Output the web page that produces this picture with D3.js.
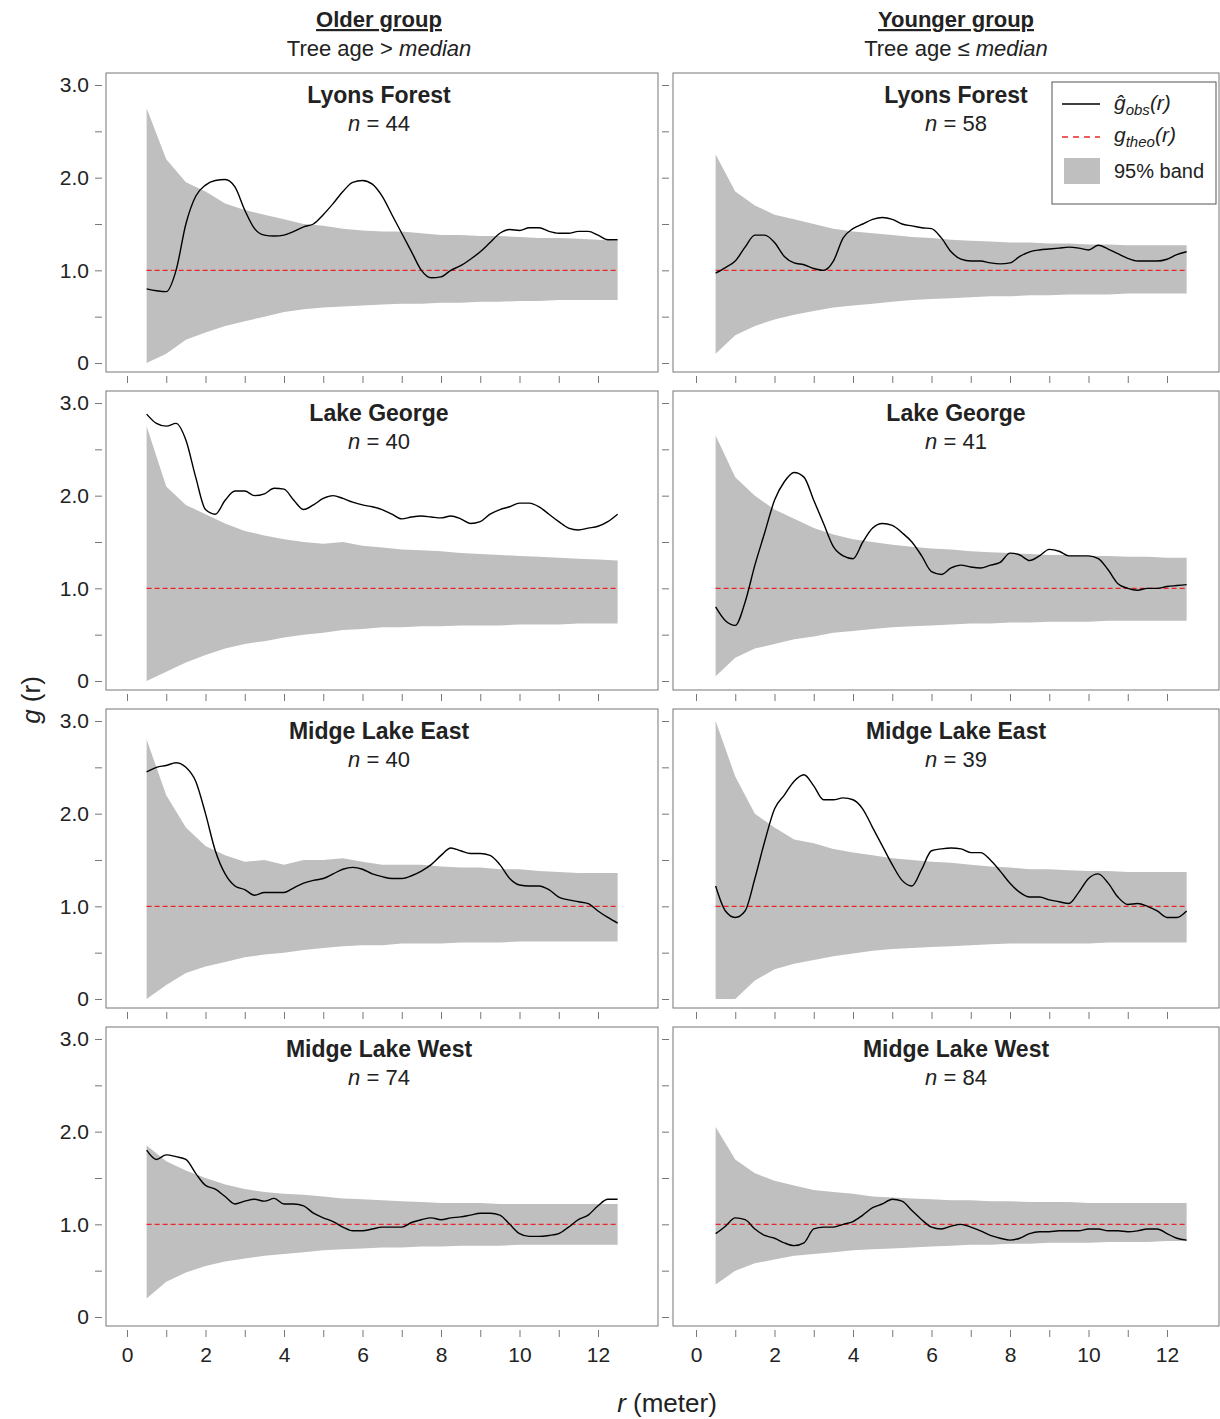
<!DOCTYPE html>
<html><head><meta charset="utf-8">
<script src="https://cdn.jsdelivr.net/npm/d3@7"></script>
<style>body{margin:0;background:#fff;font-family:Arial,"Liberation Sans",sans-serif;}</style>
</head><body><div id="chart"></div>
<script>
// Data grids
const bandR = d3.range(0, 25).map(i => 0.5 + i * 0.5);
const obsR = d3.range(0, 49).map(i => 0.5 + i * 0.25);
const sites = ['Lyons Forest', 'Lake George', 'Midge Lake East', 'Midge Lake West'];
const nOlder = [44, 40, 40, 74];
const nYounger = [58, 41, 39, 84];

const upperOld = [
  [2.75,2.2,1.95,1.85,1.72,1.65,1.6,1.55,1.5,1.48,1.45,1.43,1.42,1.42,1.4,1.38,1.38,1.37,1.37,1.36,1.35,1.35,1.34,1.33,1.32],
  [2.75,2.1,1.9,1.8,1.7,1.62,1.57,1.53,1.5,1.48,1.5,1.46,1.44,1.42,1.41,1.4,1.38,1.37,1.36,1.35,1.34,1.33,1.32,1.31,1.3],
  [2.8,2.2,1.85,1.65,1.55,1.48,1.5,1.45,1.5,1.5,1.52,1.48,1.45,1.45,1.45,1.43,1.42,1.42,1.4,1.4,1.38,1.37,1.36,1.36,1.36],
  [1.85,1.68,1.58,1.5,1.43,1.38,1.35,1.33,1.32,1.3,1.28,1.27,1.26,1.25,1.24,1.23,1.23,1.23,1.22,1.22,1.22,1.22,1.22,1.22,1.22],
];
const lowerOld = [
  [0,0.1,0.25,0.33,0.4,0.45,0.5,0.55,0.58,0.6,0.61,0.62,0.63,0.64,0.64,0.65,0.65,0.66,0.66,0.67,0.67,0.68,0.68,0.68,0.68],
  [0,0.1,0.2,0.28,0.35,0.4,0.43,0.47,0.5,0.52,0.55,0.56,0.58,0.58,0.59,0.59,0.6,0.6,0.6,0.61,0.61,0.61,0.62,0.62,0.62],
  [0,0.15,0.28,0.35,0.4,0.45,0.48,0.5,0.53,0.55,0.57,0.58,0.58,0.6,0.6,0.6,0.61,0.61,0.61,0.62,0.62,0.62,0.62,0.62,0.62],
  [0.2,0.38,0.48,0.55,0.6,0.63,0.66,0.68,0.7,0.72,0.73,0.74,0.75,0.75,0.76,0.76,0.77,0.77,0.77,0.78,0.78,0.78,0.78,0.78,0.78],
];
const upperYoung = [
  [2.25,1.85,1.7,1.6,1.55,1.5,1.45,1.42,1.4,1.38,1.36,1.35,1.33,1.32,1.31,1.3,1.3,1.29,1.29,1.28,1.28,1.27,1.27,1.27,1.27],
  [2.65,2.2,2.0,1.85,1.75,1.65,1.58,1.53,1.5,1.47,1.45,1.43,1.42,1.4,1.39,1.38,1.37,1.36,1.36,1.35,1.35,1.34,1.34,1.33,1.33],
  [3.0,2.4,2.0,1.85,1.72,1.68,1.62,1.58,1.55,1.52,1.5,1.48,1.47,1.45,1.43,1.42,1.4,1.4,1.39,1.38,1.38,1.37,1.37,1.37,1.37],
  [2.05,1.7,1.55,1.47,1.42,1.37,1.35,1.33,1.3,1.29,1.28,1.27,1.26,1.26,1.25,1.25,1.24,1.24,1.24,1.23,1.23,1.23,1.23,1.23,1.23],
];
const lowerYoung = [
  [0.1,0.3,0.4,0.47,0.52,0.56,0.6,0.62,0.64,0.66,0.68,0.69,0.7,0.71,0.72,0.72,0.73,0.73,0.74,0.74,0.74,0.75,0.75,0.75,0.75],
  [0.05,0.25,0.35,0.4,0.45,0.48,0.52,0.54,0.56,0.58,0.59,0.6,0.61,0.62,0.62,0.63,0.63,0.64,0.64,0.64,0.65,0.65,0.65,0.65,0.65],
  [0,0,0.2,0.32,0.38,0.42,0.46,0.49,0.52,0.54,0.55,0.56,0.57,0.58,0.59,0.6,0.6,0.6,0.6,0.6,0.61,0.61,0.61,0.61,0.61],
  [0.35,0.5,0.58,0.62,0.66,0.68,0.7,0.72,0.73,0.74,0.75,0.76,0.77,0.78,0.78,0.79,0.79,0.8,0.8,0.8,0.81,0.81,0.81,0.82,0.82],
];
const obsOld = [
  [0.8,0.78,0.77,1.0,1.5,1.8,1.92,1.97,1.98,1.9,1.65,1.45,1.38,1.37,1.38,1.42,1.47,1.5,1.6,1.72,1.85,1.95,1.97,1.93,1.8,1.6,1.4,1.2,1.0,0.92,0.93,1.0,1.05,1.12,1.2,1.3,1.4,1.44,1.43,1.46,1.46,1.42,1.4,1.4,1.42,1.42,1.38,1.33,1.33],
  [2.88,2.78,2.75,2.78,2.6,2.2,1.85,1.8,1.95,2.05,2.05,2.0,2.02,2.08,2.07,1.95,1.85,1.9,1.97,2.0,1.97,1.93,1.9,1.88,1.85,1.8,1.75,1.77,1.78,1.77,1.76,1.78,1.75,1.7,1.72,1.8,1.85,1.88,1.92,1.92,1.88,1.8,1.72,1.65,1.63,1.65,1.67,1.72,1.8],
  [2.45,2.5,2.52,2.55,2.5,2.35,2.0,1.6,1.35,1.22,1.18,1.12,1.15,1.15,1.15,1.2,1.25,1.28,1.3,1.35,1.4,1.42,1.4,1.35,1.32,1.3,1.3,1.33,1.38,1.45,1.55,1.63,1.6,1.57,1.57,1.55,1.45,1.3,1.23,1.22,1.22,1.18,1.1,1.07,1.05,1.03,0.95,0.88,0.82],
  [1.8,1.7,1.75,1.73,1.7,1.55,1.42,1.38,1.3,1.22,1.25,1.27,1.25,1.28,1.22,1.22,1.2,1.12,1.07,1.03,0.97,0.93,0.93,0.95,0.97,0.97,0.97,1.02,1.05,1.07,1.05,1.07,1.08,1.1,1.12,1.12,1.1,1.0,0.9,0.87,0.87,0.88,0.9,0.97,1.05,1.1,1.2,1.27,1.27],
];
const obsYoung = [
  [0.97,1.03,1.1,1.25,1.38,1.38,1.3,1.15,1.08,1.06,1.02,1.0,1.1,1.35,1.45,1.5,1.55,1.57,1.55,1.5,1.48,1.46,1.45,1.35,1.2,1.12,1.1,1.1,1.08,1.07,1.08,1.15,1.2,1.22,1.23,1.24,1.25,1.24,1.22,1.27,1.23,1.18,1.13,1.1,1.1,1.1,1.12,1.17,1.2],
  [0.8,0.65,0.6,0.85,1.25,1.6,1.95,2.15,2.25,2.2,1.95,1.7,1.45,1.35,1.32,1.5,1.65,1.7,1.68,1.6,1.5,1.35,1.18,1.15,1.22,1.25,1.23,1.22,1.25,1.28,1.38,1.36,1.3,1.35,1.42,1.4,1.35,1.35,1.35,1.32,1.2,1.05,1.0,0.98,1.0,1.0,1.02,1.03,1.04],
  [1.22,0.95,0.88,0.95,1.3,1.7,2.05,2.2,2.35,2.42,2.3,2.15,2.15,2.17,2.15,2.05,1.85,1.65,1.45,1.28,1.22,1.4,1.6,1.62,1.63,1.62,1.58,1.58,1.5,1.38,1.25,1.15,1.1,1.1,1.07,1.05,1.03,1.15,1.3,1.35,1.25,1.1,1.02,1.03,1.0,0.95,0.88,0.88,0.95],
  [0.9,0.98,1.07,1.05,0.95,0.88,0.85,0.8,0.77,0.8,0.95,0.97,0.97,1.0,1.03,1.1,1.18,1.22,1.27,1.25,1.15,1.05,0.97,0.95,0.98,1.0,0.97,0.93,0.88,0.85,0.83,0.85,0.9,0.92,0.92,0.93,0.93,0.93,0.95,0.95,0.93,0.93,0.92,0.93,0.95,0.95,0.9,0.85,0.83],
];
const xTicks = [0, 2, 4, 6, 8, 10, 12];
const yTicks = [0, 1, 2, 3];

const W = 1220, H = 1419;
const svg = d3.select('#chart').append('svg').attr('width', W).attr('height', H);
const colX = [106, 673];
const pw = [552, 546];
const rowY = [73, 391, 709, 1027];
const ph = 299;
const txt = '#222';

const cols = [
  { title: 'Older group', sub: ['Tree age > ', 'median'], n: nOlder, up: upperOld, lo: lowerOld, obs: obsOld, cx: 379 },
  { title: 'Younger group', sub: ['Tree age ≤ ', 'median'], n: nYounger, up: upperYoung, lo: lowerYoung, obs: obsYoung, cx: 956 },
];

cols.forEach((c, ci) => {
  svg.append('text').attr('x', c.cx).attr('y', 27).attr('text-anchor', 'middle')
    .style('font-size', '22px').style('font-weight', 'bold').style('text-decoration', 'underline')
    .attr('fill', '#222').text(c.title);
  const s = svg.append('text').attr('x', c.cx).attr('y', 56).attr('text-anchor', 'middle')
    .style('font-size', '22px').attr('fill', '#222');
  s.append('tspan').text(c.sub[0]);
  s.append('tspan').style('font-style', 'italic').text(c.sub[1]);

  rowY.forEach((ty, ri) => {
    const g = svg.append('g').attr('transform', `translate(${colX[ci]},${ty})`);
    const x = d3.scaleLinear().domain([0, 12]).range(ci === 0 ? [21, 492] : [23, 494]);
    const y = d3.scaleLinear().domain([0, 3]).range([290, 12]);

    const band = bandR.map((r, i) => ({ r, u: c.up[ri][i], l: c.lo[ri][i] }));
    g.append('path').datum(band)
      .attr('d', d3.area().x(d => x(d.r)).y0(d => y(d.l)).y1(d => y(d.u)))
      .attr('fill', '#bfbfbf');
    g.append('line').attr('x1', x(0.5)).attr('x2', x(12.5)).attr('y1', y(1)).attr('y2', y(1))
      .attr('stroke', '#e8262a').attr('stroke-width', 1.3).attr('stroke-dasharray', '5,3');
    g.append('path').datum(obsR.map((r, i) => [r, c.obs[ri][i]]))
      .attr('d', d3.line().x(d => x(d[0])).y(d => y(d[1])).curve(d3.curveMonotoneX))
      .attr('fill', 'none').attr('stroke', '#000').attr('stroke-width', 1.4);

    g.append('rect').attr('width', pw[ci]).attr('height', ph)
      .attr('fill', 'none').attr('stroke', '#777').attr('stroke-width', 1);

    // y axis
    const ya = d3.axisLeft(y).tickValues([0, 0.5, 1, 1.5, 2, 2.5, 3]).tickSize(7).tickPadding(6)
      .tickFormat(d => (ci === 0 && yTicks.includes(d)) ? (d === 0 ? '0' : d3.format('.1f')(d)) : '');
    const yg = g.append('g').attr('transform', 'translate(-4,0)').call(ya);
    yg.select('.domain').remove();
    yg.selectAll('line').attr('stroke', '#777');
    yg.selectAll('text').style('font-size', '21px').attr('fill', txt);

    // x axis
    const xa = d3.axisBottom(x).tickValues(d3.range(0, 13)).tickSize(7).tickPadding(10)
      .tickFormat(d => (ri === 3 && xTicks.includes(d)) ? d : '');
    const xg = g.append('g').attr('transform', `translate(0,${ph + 4})`).call(xa);
    xg.select('.domain').remove();
    xg.selectAll('line').attr('stroke', '#777');
    xg.selectAll('text').style('font-size', '21px').attr('fill', txt);

    const tx = c.cx - colX[ci];
    g.append('text').attr('x', tx).attr('y', 30).attr('text-anchor', 'middle')
      .style('font-size', '23px').style('font-weight', 'bold').attr('fill', '#222').text(sites[ri]);
    const nt = g.append('text').attr('x', tx).attr('y', 58).attr('text-anchor', 'middle')
      .style('font-size', '22px').attr('fill', '#222');
    nt.append('tspan').style('font-style', 'italic').text('n');
    nt.append('tspan').text(' = ' + c.n[ri]);
  });
});

// axis titles
const yl = svg.append('text').attr('transform', 'translate(40,700) rotate(-90)').attr('text-anchor', 'middle')
  .style('font-size', '26px').attr('fill', '#222');
yl.append('tspan').style('font-style', 'italic').text('g');
yl.append('tspan').text(' (r)');
const xl = svg.append('text').attr('x', 667).attr('y', 1412).attr('text-anchor', 'middle')
  .style('font-size', '26px').attr('fill', '#222');
xl.append('tspan').style('font-style', 'italic').text('r');
xl.append('tspan').text(' (meter)');

// legend
const lg = svg.append('g').attr('transform', 'translate(1052,82)');
lg.append('rect').attr('width', 164).attr('height', 122).attr('fill', '#fff').attr('stroke', '#555');
lg.append('line').attr('x1', 10).attr('x2', 48).attr('y1', 22).attr('y2', 22).attr('stroke', '#000').attr('stroke-width', 1.5);
lg.append('line').attr('x1', 10).attr('x2', 48).attr('y1', 55).attr('y2', 55).attr('stroke', '#e8262a').attr('stroke-width', 1.5).attr('stroke-dasharray', '6,5');
lg.append('rect').attr('x', 12).attr('y', 76).attr('width', 36).attr('height', 26).attr('fill', '#bfbfbf');
const l1 = lg.append('text').attr('x', 62).attr('y', 28).style('font-size', '21px').style('font-style', 'italic').attr('fill', '#222');
l1.append('tspan').text('ĝ');
l1.append('tspan').attr('dy', 5).style('font-size', '15px').text('obs');
l1.append('tspan').attr('dy', -5).text('(r)');
const l2 = lg.append('text').attr('x', 62).attr('y', 60).style('font-size', '21px').style('font-style', 'italic').attr('fill', '#222');
l2.append('tspan').text('g');
l2.append('tspan').attr('dy', 5).style('font-size', '15px').text('theo');
l2.append('tspan').attr('dy', -5).text('(r)');
lg.append('text').attr('x', 62).attr('y', 96).style('font-size', '20px').attr('fill', '#222').text('95% band');
</script></body></html>
